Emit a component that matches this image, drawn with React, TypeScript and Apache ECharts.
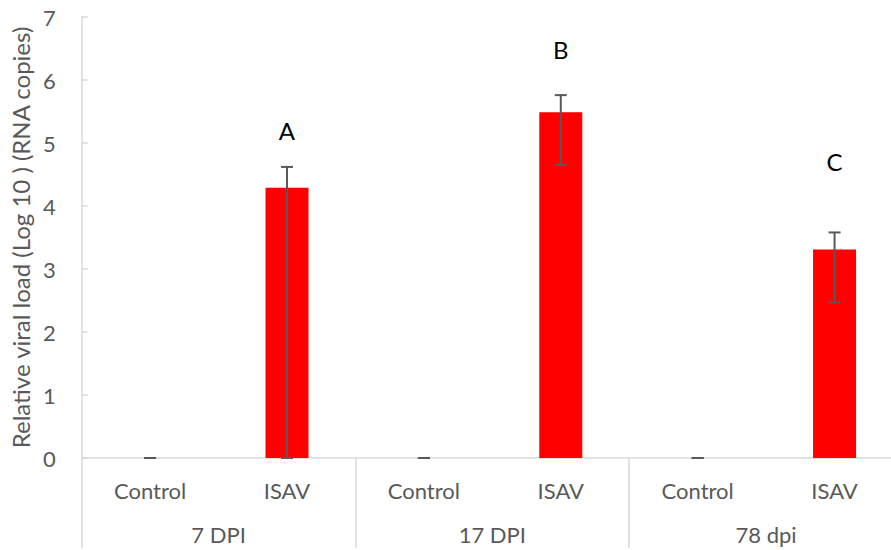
import React, { useEffect, useRef } from "react";
import * as echarts from "echarts";

// Treatment per bar, grouped by sampling time
const categories = ["Control", "ISAV", "Control", "ISAV", "Control", "ISAV"];
const groups = ["7 DPI", "17 DPI", "78 dpi"];
// Mean relative viral load (log10 RNA copies)
const values = [0, 4.29, 0, 5.49, 0, 3.31];
// Error bar limits
const errUpper = [0, 4.62, 0, 5.76, 0, 3.58];
const errLower = [0, 0, 0, 4.65, 0, 2.47];
// Significance letters and the level they sit at
const letters = ["", "A", "", "B", "", "C"];
const letterLevels = [0, 5.2, 0, 6.48, 0, 4.7];

const yTicks = [0, 1, 2, 3, 4, 5, 6, 7];

const FONT = "Lato, 'Open Sans', sans-serif";
const TEXT = "#595959";
const AXIS = "#d9d9d9";

export default function App() {
  const ref = useRef<HTMLDivElement>(null);

  useEffect(() => {
    if (!ref.current) return;
    const chart = echarts.init(ref.current, undefined, { renderer: "svg" });

    const errData = categories.map((_, i) => [i, errLower[i], errUpper[i]]);
    const letterData = categories.map((_, i) => [i, letterLevels[i], letters[i]]);

    chart.setOption({
      animation: false,
      textStyle: { fontFamily: FONT },
      grid: { left: 81, right: 0, top: 17, bottom: 92, containLabel: false },
      xAxis: [
        {
          type: "category",
          data: categories,
          position: "bottom",
          axisLine: { show: true, lineStyle: { color: AXIS, width: 1.5 } },
          axisTick: { show: false },
          axisLabel: { color: TEXT, fontSize: 22, margin: 21, fontFamily: FONT },
        },
        {
          type: "category",
          data: groups,
          position: "bottom",
          axisLine: { show: false },
          axisTick: { show: true, length: 90, lineStyle: { color: AXIS, width: 1.5 } },
          axisLabel: { color: TEXT, fontSize: 22, margin: 65, fontFamily: FONT },
        },
      ],
      yAxis: {
        type: "value",
        min: 0,
        max: 7,
        interval: 1,
        name: "Relative viral load (Log 10 ) (RNA copies)",
        nameLocation: "middle",
        nameGap: 46,
        nameTextStyle: { color: TEXT, fontSize: 24, fontFamily: FONT },
        axisLine: { show: true, lineStyle: { color: AXIS, width: 1.5 } },
        axisTick: { show: true, inside: true, length: 6, lineStyle: { color: AXIS, width: 1.5 } },
        splitLine: { show: false },
        axisLabel: {
          color: TEXT,
          fontSize: 22,
          margin: 26,
          fontFamily: FONT,
          formatter: (v: number) => (yTicks.includes(v) ? String(v) : ""),
        },
      },
      series: [
        {
          type: "bar",
          data: values,
          barWidth: 43,
          itemStyle: { color: "#ff0000" },
        },
        {
          type: "custom",
          data: errData,
          z: 10,
          renderItem: (params: any, api: any) => {
            const idx = api.value(0);
            const lo = api.coord([idx, api.value(1)]);
            const hi = api.coord([idx, api.value(2)]);
            const half = 6;
            const style = { stroke: "#595959", lineWidth: 2 };
            return {
              type: "group",
              children: [
                { type: "line", shape: { x1: hi[0], y1: hi[1], x2: lo[0], y2: lo[1] }, style },
                { type: "line", shape: { x1: hi[0] - half, y1: hi[1], x2: hi[0] + half, y2: hi[1] }, style },
                { type: "line", shape: { x1: lo[0] - half, y1: lo[1], x2: lo[0] + half, y2: lo[1] }, style },
              ],
            };
          },
        },
        {
          type: "custom",
          data: letterData,
          z: 11,
          renderItem: (params: any, api: any) => {
            const i = params.dataIndex;
            if (!letters[i]) return null;
            const p = api.coord([api.value(0), api.value(1)]);
            return {
              type: "text",
              x: p[0],
              y: p[1],
              style: {
                text: letters[i],
                fill: "#000000",
                font: `24px ${FONT}`,
                textAlign: "center",
                textVerticalAlign: "middle",
              },
            };
          },
        },
      ],
    });

    return () => chart.dispose();
  }, []);

  // The plot runs a little past the right edge of the visible area
  return (
    <div
      style={{
        position: "absolute",
        left: 0,
        top: 0,
        width: 891,
        height: 550,
        overflow: "hidden",
        background: "#fff",
      }}
    >
      <div ref={ref} style={{ width: 903, height: 550 }} />
    </div>
  );
}
